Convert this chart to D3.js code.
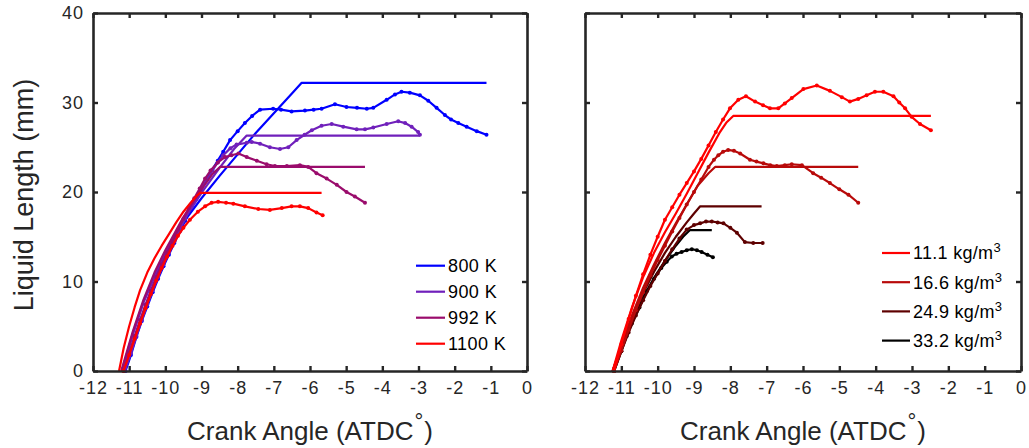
<!DOCTYPE html>
<html>
<head>
<meta charset="utf-8">
<script src="https://cdn.jsdelivr.net/npm/d3@7"></script>
<style>
  html, body { margin: 0; padding: 0; background: #fff; }
  svg { display: block; font-family: "Liberation Sans", Arial, sans-serif; }
</style>
</head>
<body>
<svg id="chart" width="1029" height="448"></svg>
<script>
// Axis ticks
const crankTicks = [-12, -11, -10, -9, -8, -7, -6, -5, -4, -3, -2, -1, 0];
const lengthTicks = [0, 10, 20, 30, 40];

// Left panel: ambient temperature sweep
const tempLabels = ["800 K", "900 K", "992 K", "1100 K"];
const tempColors = ["#0000ff", "#7020bb", "#9a0c6c", "#ff0000"];

// measured liquid length [crank angle, mm]
const exp800 = [[-11.1,0],[-10.95,1.8],[-10.8,3.8],[-10.65,5.6],[-10.5,7.2],[-10.35,8.8],[-10.2,10.3],[-10.05,11.7],[-9.9,13.0],[-9.75,14.3],[-9.6,15.6],[-9.45,16.8],[-9.3,18.0],[-9.15,19.2],[-9.0,20.3],[-8.85,21.4],[-8.7,22.5],[-8.55,23.5],[-8.4,24.5],[-8.21,25.8],[-8.0,26.8],[-7.8,27.7],[-7.6,28.5],[-7.38,29.2],[-7.02,29.3],[-6.8,29.2],[-6.51,29.0],[-6.14,29.1],[-5.9,29.2],[-5.68,29.3],[-5.31,29.8],[-4.99,29.5],[-4.7,29.4],[-4.43,29.3],[-4.25,29.4],[-3.88,30.3],[-3.65,30.9],[-3.47,31.2],[-3.24,31.1],[-2.96,30.8],[-2.73,30.2],[-2.5,29.4],[-2.27,28.6],[-2.1,28.1],[-1.9,27.7],[-1.67,27.3],[-1.39,26.8],[-1.12,26.4]];
const exp900 = [[-11.12,0],[-10.95,2.0],[-10.8,3.9],[-10.65,5.7],[-10.5,7.4],[-10.35,9.0],[-10.2,10.5],[-10.05,11.9],[-9.9,13.2],[-9.75,14.5],[-9.6,15.8],[-9.45,17.0],[-9.3,18.2],[-9.15,19.3],[-9.0,20.4],[-8.85,21.4],[-8.7,22.4],[-8.55,23.3],[-8.4,24.1],[-8.2,24.9],[-8.03,25.3],[-7.75,25.5],[-7.61,25.6],[-7.38,25.4],[-7.11,25.0],[-6.83,24.8],[-6.6,25.0],[-6.37,25.8],[-6.15,26.4],[-5.95,26.9],[-5.68,27.4],[-5.4,27.6],[-5.08,27.3],[-4.71,27.0],[-4.48,27.0],[-4.25,27.2],[-3.88,27.6],[-3.56,27.9],[-3.37,27.7],[-3.19,27.3],[-3.01,26.7],[-2.96,26.4]];
const exp992 = [[-11.15,0],[-11.0,2.0],[-10.85,3.9],[-10.7,5.7],[-10.55,7.4],[-10.4,9.0],[-10.25,10.5],[-10.1,11.9],[-9.95,13.2],[-9.8,14.5],[-9.65,15.8],[-9.5,17.0],[-9.35,18.2],[-9.2,19.3],[-9.05,20.4],[-8.9,21.5],[-8.75,22.4],[-8.55,23.3],[-8.35,23.9],[-8.17,24.1],[-7.98,24.3],[-7.75,23.9],[-7.47,23.5],[-7.2,23.1],[-6.97,22.9],[-6.64,22.9],[-6.28,23.0],[-6.05,22.8],[-5.82,22.1],[-5.54,21.5],[-5.26,20.8],[-4.99,20.0],[-4.76,19.5],[-4.48,18.8]];
const exp1100 = [[-11.16,0],[-11.0,1.8],[-10.85,3.6],[-10.7,5.3],[-10.55,7.0],[-10.4,8.6],[-10.25,10.1],[-10.1,11.5],[-9.95,12.8],[-9.8,14.0],[-9.65,15.1],[-9.5,16.0],[-9.32,16.9],[-9.1,17.8],[-8.9,18.4],[-8.72,18.8],[-8.54,18.9],[-8.32,18.8],[-8.12,18.7],[-7.8,18.4],[-7.43,18.1],[-7.11,18.0],[-6.78,18.2],[-6.51,18.4],[-6.28,18.4],[-6.05,18.2],[-5.82,17.7],[-5.65,17.4]];

// model liquid length [crank angle, mm]
const model800 = [[-11.2,0],[-10.9,4.2],[-10.6,7.8],[-10.3,10.6],[-10.0,13.0],[-9.5,16.6],[-9.0,19.3],[-8.5,21.8],[-8.0,24.2],[-7.5,26.6],[-7.0,28.8],[-6.5,31.0],[-6.23,32.2],[-1.12,32.2]];
const model900 = [[-11.18,0],[-10.9,4.1],[-10.6,7.7],[-10.3,10.6],[-10.0,13.1],[-9.5,16.8],[-9.0,19.9],[-8.5,22.7],[-8.1,24.8],[-7.75,26.3],[-2.96,26.3]];
const model992 = [[-11.22,0],[-10.9,4.4],[-10.6,8.0],[-10.3,11.0],[-10.0,13.5],[-9.5,17.2],[-9.0,20.3],[-8.7,22.0],[-8.49,22.8],[-4.48,22.8]];
const model1100 = [[-11.28,0],[-11.15,2.6],[-11.0,5.0],[-10.85,7.1],[-10.7,9.0],[-10.5,11.0],[-10.3,12.6],[-10.1,14.0],[-9.9,15.3],[-9.7,16.6],[-9.5,17.8],[-9.3,18.8],[-9.15,19.5],[-9.04,19.9],[-5.68,19.9]];

// Right panel: ambient density sweep
const densityLabels = ["11.1 kg/m", "16.6 kg/m", "24.9 kg/m", "33.2 kg/m"];
const densityColors = ["#ff0000", "#b80a0a", "#5e0000", "#000000"];

const exp111 = [[-11.2,0],[-11.0,3.0],[-10.8,5.8],[-10.6,8.4],[-10.4,10.8],[-10.2,13.0],[-10.0,15.0],[-9.8,16.9],[-9.6,18.3],[-9.4,19.7],[-9.2,21.0],[-9.0,22.3],[-8.8,23.7],[-8.6,25.2],[-8.4,26.7],[-8.2,28.1],[-8.01,29.35],[-7.78,30.3],[-7.57,30.7],[-7.32,30.1],[-7.1,29.7],[-6.91,29.35],[-6.68,29.35],[-6.5,29.9],[-6.31,30.5],[-5.99,31.5],[-5.62,31.9],[-5.26,31.3],[-4.93,30.6],[-4.71,30.1],[-4.48,30.4],[-4.25,30.8],[-4.02,31.2],[-3.79,31.2],[-3.51,30.7],[-3.35,30.0],[-3.19,29.35],[-3.01,28.4],[-2.78,27.6],[-2.48,26.9]];
const exp166 = [[-11.2,0],[-11.0,2.3],[-10.8,4.6],[-10.6,6.8],[-10.4,8.8],[-10.2,10.7],[-10.0,12.4],[-9.8,14.0],[-9.6,15.6],[-9.4,17.1],[-9.2,18.6],[-9.0,20.0],[-8.8,21.4],[-8.6,22.8],[-8.45,23.6],[-8.33,24.1],[-8.2,24.5],[-8.06,24.7],[-7.9,24.6],[-7.73,24.3],[-7.46,23.6],[-7.28,23.4],[-7.09,23.2],[-6.9,23.0],[-6.72,22.9],[-6.5,23.0],[-6.31,23.1],[-6.03,23.0],[-5.72,22.1],[-5.5,21.6],[-5.26,21.0],[-5.0,20.3],[-4.75,19.7],[-4.48,18.8]];
const exp249 = [[-11.2,0],[-11.0,2.2],[-10.8,4.3],[-10.6,6.2],[-10.4,7.9],[-10.2,9.5],[-10.0,10.9],[-9.8,12.3],[-9.6,13.6],[-9.4,14.8],[-9.2,15.8],[-9.0,16.3],[-8.83,16.5],[-8.67,16.7],[-8.51,16.7],[-8.35,16.6],[-8.19,16.5],[-8.0,16.0],[-7.82,15.45],[-7.6,14.4],[-7.37,14.3],[-7.11,14.3]];
const exp332 = [[-11.2,0],[-11.0,2.2],[-10.85,3.9],[-10.71,5.3],[-10.5,7.1],[-10.3,8.9],[-10.1,10.3],[-9.9,11.5],[-9.75,12.2],[-9.61,12.8],[-9.48,13.1],[-9.34,13.3],[-9.2,13.5],[-9.06,13.6],[-8.92,13.5],[-8.79,13.3],[-8.63,13.0],[-8.48,12.7]];

const model111 = [[-11.24,0],[-11.0,3.4],[-10.7,7.2],[-10.4,10.5],[-10.1,13.2],[-9.8,15.5],[-9.5,17.6],[-9.2,19.8],[-8.9,22.1],[-8.6,24.4],[-8.3,26.6],[-8.1,27.8],[-7.92,28.5],[-2.48,28.5]];
const model166 = [[-11.24,0],[-11.0,2.9],[-10.7,6.3],[-10.4,9.3],[-10.1,11.9],[-9.8,14.3],[-9.5,16.5],[-9.2,18.6],[-8.9,20.7],[-8.6,22.1],[-8.42,22.8],[-4.48,22.8]];
const model249 = [[-11.24,0],[-11.0,2.7],[-10.7,5.9],[-10.4,8.7],[-10.1,11.1],[-9.8,13.2],[-9.5,15.0],[-9.2,16.6],[-9.0,17.6],[-8.83,18.4],[-7.14,18.4]];
const model332 = [[-11.24,0],[-11.0,2.6],[-10.7,5.6],[-10.4,8.2],[-10.1,10.4],[-9.8,12.3],[-9.5,14.0],[-9.3,15.0],[-9.11,15.75],[-8.51,15.75]];

const svg = d3.select("#chart");
const ink = "#262626";
const plotTop = 13, plotBottom = 371;

const y = d3.scaleLinear().domain([0, 40]).range([plotBottom, plotTop]);

function panel(x0, x1, expSets, modelSets, colors, showYLabels) {
  const x = d3.scaleLinear().domain([-12, 0]).range([x0, x1]);
  const g = svg.append("g");
  const line = d3.line().x(d => x(d[0])).y(d => y(d[1]));

  // series: model curve (plain) and measurement (line + dots)
  expSets.forEach((s, i) => {
    g.append("path").datum(modelSets[i])
      .attr("d", line).attr("fill", "none")
      .attr("stroke", colors[i]).attr("stroke-width", 2.2)
      .attr("stroke-linejoin", "round");
    g.append("path").datum(s)
      .attr("d", line).attr("fill", "none")
      .attr("stroke", colors[i]).attr("stroke-width", 2.2)
      .attr("stroke-linejoin", "round");
    g.selectAll(null).data(s).enter().append("circle")
      .attr("cx", d => x(d[0])).attr("cy", d => y(d[1]))
      .attr("r", 2).attr("fill", colors[i]);
  });

  const styleAxis = a => {
    a.selectAll(".domain").attr("stroke", ink).attr("stroke-width", 2.6);
    a.selectAll(".tick line").attr("stroke", ink).attr("stroke-width", 2.4);
    a.selectAll(".tick text").attr("fill", ink)
      .attr("font-family", "Liberation Sans, Arial, sans-serif")
      .attr("font-size", 18).attr("letter-spacing", 1);
  };

  const ax = svg.append("g").attr("transform", `translate(0,${plotBottom})`)
    .call(d3.axisBottom(x).tickValues(crankTicks).tickSizeInner(-5).tickSizeOuter(0)
      .tickPadding(10).tickFormat(d => d === 0 ? "0" : "-" + Math.abs(d)));
  styleAxis(ax);
  const axT = svg.append("g").attr("transform", `translate(0,${plotTop})`)
    .call(d3.axisTop(x).tickValues(crankTicks).tickSizeInner(-5).tickSizeOuter(0).tickFormat(""));
  styleAxis(axT);
  const ayL = svg.append("g").attr("transform", `translate(${x0},0)`)
    .call(d3.axisLeft(y).tickValues(lengthTicks).tickSizeInner(-5).tickSizeOuter(0)
      .tickPadding(9).tickFormat(showYLabels ? d3.format("d") : ""));
  styleAxis(ayL);
  const ayR = svg.append("g").attr("transform", `translate(${x1},0)`)
    .call(d3.axisRight(y).tickValues(lengthTicks).tickSizeInner(-5).tickSizeOuter(0).tickFormat(""));
  styleAxis(ayR);

  // x axis title with superscript degree ring
  const t = svg.append("text").attr("x", (x0 + x1) / 2).attr("y", 440)
    .attr("text-anchor", "middle").attr("font-size", 26).attr("fill", ink);
  t.append("tspan").text("Crank Angle (ATDC");
  t.append("tspan").attr("font-size", 22).attr("dy", -11).attr("dx", 1).text("°");
  t.append("tspan").attr("dy", 11).attr("dx", 1).text(")");
  return x;
}

panel(93, 527, [exp800, exp900, exp992, exp1100],
  [model800, model900, model992, model1100], tempColors, true);
panel(585, 1021, [exp332, exp249, exp166, exp111],
  [model332, model249, model166, model111],
  [densityColors[3], densityColors[2], densityColors[1], densityColors[0]], false);

// y axis title
svg.append("text")
  .attr("transform", "translate(33,195) rotate(-90)")
  .attr("text-anchor", "middle").attr("font-size", 27).attr("fill", ink)
  .text("Liquid Length (mm)");

// legends
const legL = svg.append("g");
tempLabels.forEach((lab, i) => {
  const yy = 265.7 + i * 26;
  legL.append("line").attr("x1", 416).attr("x2", 445).attr("y1", yy).attr("y2", yy)
    .attr("stroke", tempColors[i]).attr("stroke-width", 2.2);
  legL.append("text").attr("x", 448).attr("y", yy).attr("dy", "0.36em")
    .attr("font-size", 18).attr("letter-spacing", 0.4).attr("fill", "#000").text(lab);
});

const legR = svg.append("g");
densityLabels.forEach((lab, i) => {
  const yy = 253 + i * 29.2;
  legR.append("line").attr("x1", 882).attr("x2", 910).attr("y1", yy).attr("y2", yy)
    .attr("stroke", densityColors[i]).attr("stroke-width", 2.2);
  const t = legR.append("text").attr("x", 913).attr("y", yy).attr("dy", "0.36em")
    .attr("font-size", 18).attr("letter-spacing", 0.3).attr("fill", "#000");
  t.append("tspan").text(lab);
  t.append("tspan").attr("font-size", 13).attr("dy", -7).text("3");
});
</script>
</body>
</html>
